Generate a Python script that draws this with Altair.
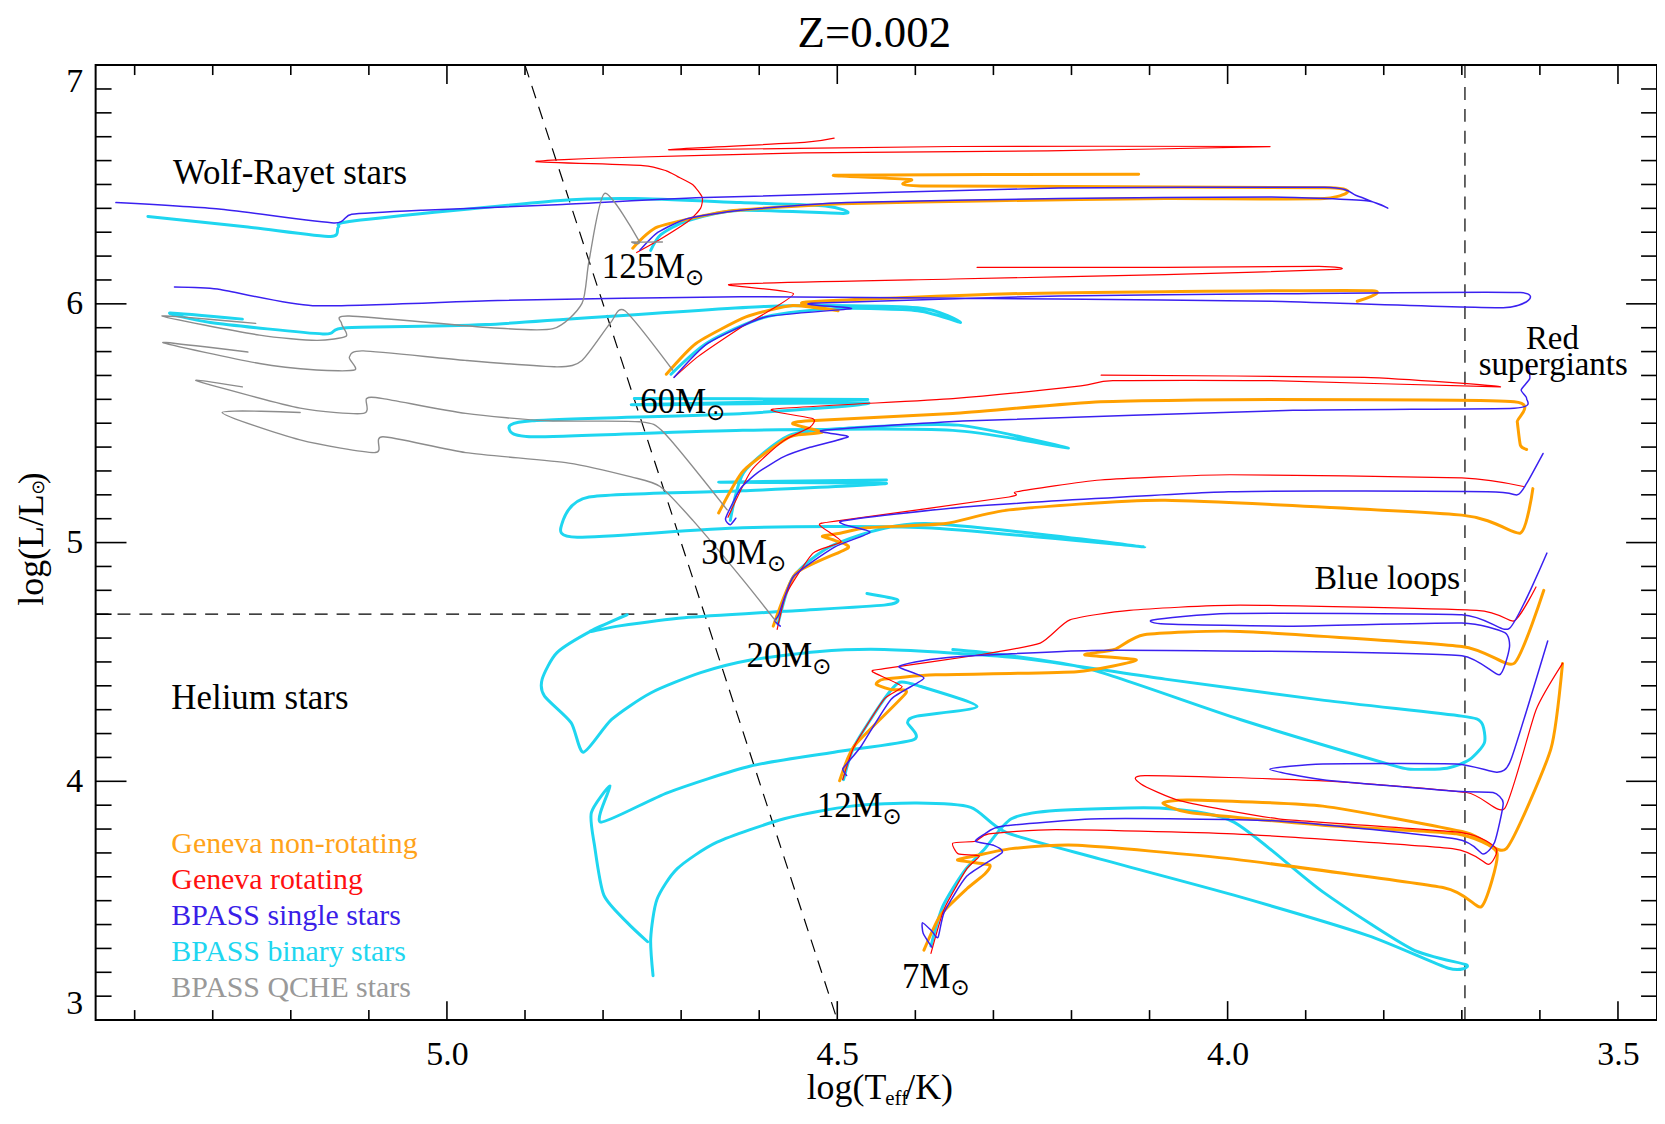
import altair as alt
import pandas as pd

# ---------------- axis ticks ----------------
x_major = [5.0, 4.5, 4.0, 3.5]
x_minor = [5.4, 5.3, 5.2, 5.1, 4.9, 4.8, 4.7, 4.6, 4.4, 4.3, 4.2, 4.1, 3.9, 3.8, 3.7, 3.6]
y_major = [3, 4, 5, 6, 7]
y_minor = [3.1, 3.2, 3.3, 3.4, 3.5, 3.6, 3.7, 3.8, 3.9,
           4.1, 4.2, 4.3, 4.4, 4.5, 4.6, 4.7, 4.8, 4.9,
           5.1, 5.2, 5.3, 5.4, 5.5, 5.6, 5.7, 5.8, 5.9,
           6.1, 6.2, 6.3, 6.4, 6.5, 6.6, 6.7, 6.8, 6.9]

# ---------------- dashed guide lines (logT, logL) ----------------
diag_line = [(4.90, 7.0), (4.50, 3.0)]
helium_line = [(5.45, 4.70), (4.679, 4.70)]
rsg_line = [(3.696, 3.0), (3.696, 7.0)]

# ---------------- tracks (logT, logL) ----------------
# Geneva non-rotating (orange)
nonrot_125 = [(4.762, 6.233), (4.730, 6.322), (4.640, 6.388), (4.495, 6.419), (4.299, 6.432), (4.080, 6.441),
              (3.876, 6.441), (3.870, 6.486), (4.393, 6.494), (4.406, 6.521), (4.501, 6.539), (4.114, 6.543)]
nonrot_60 = [(4.719, 5.705), (4.681, 5.834), (4.617, 5.945), (4.557, 5.993), (4.499, 5.971), (4.542, 6.007),
             (4.279, 6.042), (4.080, 6.051), (3.815, 6.055), (3.834, 6.011)]
nonrot_30 = [(4.652, 5.124), (4.620, 5.302), (4.561, 5.443), (4.519, 5.461), (4.557, 5.497), (4.535, 5.510),
             (4.352, 5.541), (4.163, 5.590), (3.944, 5.599), (3.633, 5.590), (3.629, 5.506), (3.625, 5.408),
             (3.617, 5.390)]
nonrot_20 = [(4.582, 4.650), (4.553, 4.871), (4.486, 4.978), (4.507, 5.013), (4.519, 5.027), (4.495, 5.040),
             (4.462, 5.062), (4.361, 5.080), (4.280, 5.137), (4.080, 5.177), (3.700, 5.115), (3.625, 5.040),
             (3.609, 5.226)]
nonrot_12 = [(4.497, 4.002), (4.478, 4.149), (4.412, 4.370), (4.431, 4.384), (4.450, 4.406), (4.440, 4.428),
             (4.374, 4.446), (4.193, 4.459), (4.117, 4.508), (4.183, 4.530), (4.145, 4.552), (4.107, 4.614),
             (3.984, 4.628), (3.700, 4.565), (3.633, 4.494), (3.595, 4.800)]
nonrot_7 = [(4.389, 3.293), (4.368, 3.439), (4.334, 3.550), (4.311, 3.612), (4.305, 3.650), (4.346, 3.670),
            (4.320, 3.690), (4.277, 3.718), (4.192, 3.732), (3.992, 3.674), (3.723, 3.554), (3.675, 3.475),
            (3.655, 3.701), (3.707, 3.780), (3.878, 3.816), (4.049, 3.869), (4.083, 3.909), (4.049, 3.922),
            (3.878, 3.896), (3.694, 3.785), (3.643, 3.718), (3.586, 4.135), (3.571, 4.494)]

# Geneva rotating (red)
rot_125 = [(4.757, 6.215), (4.730, 6.264), (4.690, 6.348), (4.675, 6.401), (4.673, 6.446), (4.685, 6.499),
           (4.705, 6.534), (4.719, 6.557), (4.749, 6.579), (4.886, 6.596), (4.788, 6.612), (4.543, 6.632),
           (4.231, 6.641), (3.946, 6.659), (4.352, 6.659), (4.715, 6.645), (4.542, 6.676), (4.504, 6.694)]
rot_60 = [(4.709, 5.692), (4.678, 5.780), (4.624, 5.900), (4.556, 6.042), (4.637, 6.082), (4.352, 6.104),
          (4.080, 6.122), (3.860, 6.144), (3.883, 6.157), (4.080, 6.153), (4.321, 6.153)]
rot_30 = [(4.640, 5.106), (4.610, 5.302), (4.569, 5.426), (4.535, 5.483), (4.531, 5.519), (4.582, 5.559),
          (4.352, 5.603), (4.188, 5.656), (4.147, 5.678), (3.944, 5.678), (3.651, 5.652), (3.825, 5.692),
          (4.162, 5.701)]
rot_20 = [(4.577, 4.636), (4.565, 4.787), (4.531, 4.956), (4.495, 5.004), (4.523, 5.075), (4.495, 5.093),
          (4.280, 5.191), (4.270, 5.213), (4.163, 5.262), (3.997, 5.284), (3.700, 5.271), (3.621, 5.235)]
rot_12 = [(4.493, 4.007), (4.478, 4.149), (4.440, 4.344), (4.417, 4.397), (4.455, 4.459), (4.440, 4.472),
          (4.317, 4.530), (4.240, 4.579), (4.202, 4.676), (4.126, 4.716), (3.984, 4.738), (3.681, 4.716),
          (3.633, 4.672), (3.605, 4.814)]
rot_7 = [(4.380, 3.279), (4.363, 3.466), (4.334, 3.634), (4.318, 3.687), (4.345, 3.696), (4.352, 3.741),
         (4.323, 3.749), (4.306, 3.780), (4.220, 3.798), (3.992, 3.780), (3.712, 3.718), (3.666, 3.652),
         (3.656, 3.718), (3.700, 3.785), (3.935, 3.843), (4.060, 3.918), (4.111, 3.989), (4.106, 4.024),
         (3.878, 4.002), (3.694, 3.953), (3.645, 3.887), (3.605, 4.299), (3.571, 4.494)]

# BPASS single stars (blue)
single_125 = [(4.753, 6.224), (4.730, 6.299), (4.692, 6.357), (4.624, 6.392), (4.488, 6.424), (4.216, 6.441),
              (3.944, 6.448), (3.822, 6.432), (3.795, 6.401), (3.836, 6.455), (3.876, 6.488), (4.216, 6.485),
              (4.670, 6.445), (4.859, 6.415), (5.031, 6.392), (5.122, 6.375), (5.145, 6.339), (5.292, 6.397),
              (5.424, 6.424)]
single_60 = [(4.709, 5.692), (4.666, 5.834), (4.592, 5.945), (4.482, 5.980), (4.533, 6.002), (4.216, 6.033),
             (3.944, 6.042), (3.625, 6.047), (3.647, 5.984), (3.944, 6.011), (4.216, 6.020), (4.624, 6.030),
             (4.935, 6.014), (5.172, 5.992), (5.294, 6.062), (5.349, 6.071)]
single_30 = [(4.630, 5.102), (4.637, 5.075), (4.643, 5.102), (4.624, 5.226), (4.602, 5.293), (4.569, 5.359),
             (4.535, 5.399), (4.486, 5.443), (4.519, 5.470), (4.329, 5.510), (3.916, 5.554), (3.633, 5.563),
             (3.617, 5.603), (3.624, 5.639), (3.613, 5.687), (3.615, 5.745)]
single_20 = [(4.573, 4.650), (4.580, 4.672), (4.575, 4.698), (4.556, 4.858), (4.503, 4.982), (4.458, 5.044),
             (4.495, 5.089), (4.329, 5.151), (3.999, 5.213), (3.667, 5.213), (3.629, 5.200), (3.617, 5.248),
             (3.596, 5.373)]
single_12 = [(4.488, 4.024), (4.493, 4.051), (4.488, 4.073), (4.469, 4.149), (4.431, 4.344), (4.389, 4.432),
             (4.421, 4.481), (4.364, 4.517), (4.174, 4.548), (3.889, 4.543), (3.700, 4.526), (3.652, 4.446),
             (3.639, 4.561), (3.645, 4.623), (3.700, 4.663), (3.916, 4.650), (4.080, 4.659), (4.096, 4.676),
             (3.997, 4.703), (3.700, 4.698), (3.639, 4.641), (3.591, 4.956)]
single_7 = [(4.379, 3.306), (4.390, 3.364), (4.391, 3.408), (4.379, 3.373), (4.371, 3.346), (4.363, 3.452),
            (4.334, 3.603), (4.289, 3.701), (4.300, 3.732), (4.323, 3.749), (4.311, 3.780), (4.289, 3.812),
            (4.163, 3.843), (3.935, 3.834), (3.707, 3.758), (3.673, 3.696), (3.658, 3.745), (3.647, 3.909),
            (3.660, 3.953), (3.707, 3.958), (3.878, 4.007), (3.946, 4.051), (3.878, 4.073), (3.707, 4.073),
            (3.655, 4.038), (3.637, 4.091), (3.590, 4.588)]

# BPASS binary stars (cyan)
binary_125 = [(4.739, 6.224), (4.726, 6.290), (4.692, 6.348), (4.624, 6.392), (4.490, 6.379), (4.515, 6.410),
              (4.624, 6.424), (4.760, 6.441), (4.859, 6.432), (5.118, 6.348), (5.139, 6.322), (5.149, 6.282),
              (5.255, 6.322), (5.383, 6.366)]
binary_60 = [(4.713, 5.705), (4.666, 5.838), (4.592, 5.945), (4.501, 5.980), (4.397, 5.971), (4.342, 5.922),
             (4.397, 5.984), (4.592, 5.989), (4.950, 5.913), (5.129, 5.900), (5.159, 5.874), (5.303, 5.922),
             (5.355, 5.962), (5.262, 5.936)]
binary_30 = [(4.637, 5.093), (4.620, 5.293), (4.562, 5.448), (4.488, 5.479), (4.345, 5.492), (4.204, 5.395),
             (4.352, 5.470), (4.621, 5.470), (4.885, 5.443), (4.920, 5.474), (4.891, 5.510), (4.621, 5.541),
             (4.461, 5.585), (4.764, 5.577), (4.461, 5.599), (4.760, 5.603)]
binary_20a = [(4.576, 4.659), (4.556, 4.858), (4.501, 4.996), (4.387, 5.080), (4.106, 4.982), (4.387, 5.062),
              (4.621, 5.062), (4.833, 5.022), (4.853, 5.075), (4.818, 5.191), (4.621, 5.217), (4.437, 5.248),
              (4.652, 5.253), (4.437, 5.262)]
binary_20b = [(4.462, 4.787), (4.423, 4.761), (4.440, 4.738), (4.568, 4.712), (4.696, 4.685), (4.781, 4.650),
              (4.817, 4.628), (4.769, 4.698), (4.814, 4.632), (4.859, 4.539), (4.878, 4.428), (4.875, 4.357),
              (4.841, 4.246), (4.825, 4.122), (4.789, 4.259), (4.739, 4.370), (4.675, 4.455), (4.611, 4.508),
              (4.526, 4.543), (4.440, 4.552), (4.269, 4.517), (4.080, 4.428), (3.876, 4.339), (3.700, 4.273),
              (3.675, 4.246), (3.671, 4.162), (3.690, 4.091), (3.719, 4.055), (3.766, 4.051), (3.795, 4.073),
              (3.984, 4.259), (4.174, 4.468), (4.288, 4.530), (4.352, 4.552)]
binary_12 = [(4.492, 4.007), (4.478, 4.149), (4.440, 4.344), (4.420, 4.415), (4.393, 4.397), (4.321, 4.313),
             (4.398, 4.273), (4.410, 4.246), (4.402, 4.175), (4.504, 4.122), (4.611, 4.064), (4.717, 3.953),
             (4.803, 3.829), (4.791, 3.980), (4.815, 3.869), (4.811, 3.732), (4.799, 3.523), (4.769, 3.408),
             (4.743, 3.328)]
binary_7 = [(4.380, 3.310), (4.365, 3.475), (4.338, 3.621), (4.311, 3.718), (4.277, 3.843), (4.220, 3.878),
            (4.083, 3.887), (3.992, 3.829), (3.878, 3.537), (3.764, 3.297), (3.694, 3.231), (3.717, 3.217),
            (3.821, 3.355), (3.992, 3.523), (4.163, 3.674), (4.283, 3.785), (4.329, 3.891), (4.398, 3.909),
            (4.482, 3.896), (4.568, 3.843), (4.654, 3.745), (4.705, 3.634), (4.731, 3.505), (4.739, 3.341),
            (4.736, 3.186)]

# BPASS QCHE stars (grey)
qche_125 = [(4.724, 6.259), (4.763, 6.259), (4.754, 6.264), (4.798, 6.463), (4.818, 6.180), (4.827, 6.002),
            (4.864, 5.896), (4.944, 5.900), (5.125, 5.949), (5.135, 5.918), (5.129, 5.865), (5.167, 5.847),
            (5.240, 5.869), (5.365, 5.949), (5.245, 5.918)]
qche_60 = [(4.711, 5.723), (4.772, 5.971), (4.791, 5.918), (4.827, 5.763), (4.859, 5.736), (4.976, 5.763),
           (5.107, 5.803), (5.125, 5.776), (5.118, 5.723), (5.167, 5.723), (5.240, 5.750), (5.364, 5.838),
           (5.255, 5.798)]
qche_30 = [(4.641, 5.137), (4.721, 5.457), (4.753, 5.506), (4.870, 5.510), (4.976, 5.541), (5.082, 5.603),
           (5.103, 5.603), (5.107, 5.541), (5.188, 5.563), (5.321, 5.678), (5.262, 5.652)]
qche_20 = [(4.579, 4.672), (4.621, 4.845), (4.685, 5.093), (4.727, 5.235), (4.764, 5.275), (4.844, 5.333),
           (4.976, 5.377), (5.082, 5.443), (5.092, 5.377), (5.188, 5.430), (5.288, 5.545), (5.188, 5.545)]

# ---------------- labels ----------------
title_text = "Z=0.002"

mass_labels = ["125M", "60M", "30M", "20M", "12M", "7M"]
mass_T = [4.695, 4.668, 4.590, 4.532, 4.442, 4.355]
mass_L = [6.153, 5.588, 4.956, 4.524, 3.897, 3.180]

region_labels = ["Wolf-Rayet stars", "Helium stars"]
region_T = [5.351, 5.353]
region_L = [6.548, 4.348]

rsg_labels = ["Red", "supergiants"]
rsg_T = [3.584, 3.583]
rsg_L = [5.852, 5.742]

loops_label = ["Blue loops"]
loops_T = [3.702]
loops_L = [4.847]

legend_names = ["Geneva non-rotating", "Geneva rotating", "BPASS single stars",
                "BPASS binary stars", "BPASS QCHE stars"]
legend_colors = ["#FFA31A", "#FF1010", "#3A1EE8", "#1ED6F0", "#999999"]
legend_T = [5.353, 5.353, 5.353, 5.353, 5.353]
legend_L = [3.736, 3.585, 3.434, 3.284, 3.133]

# ---------------- build tables ----------------
track_sets = [
    ("BPASS binary stars", [("b125", binary_125), ("b60", binary_60), ("b30", binary_30), ("b20a", binary_20a),
                            ("b20b", binary_20b), ("b12", binary_12), ("b7", binary_7)]),
    ("Geneva non-rotating", [("n125", nonrot_125), ("n60", nonrot_60), ("n30", nonrot_30), ("n20", nonrot_20),
                             ("n12", nonrot_12), ("n7", nonrot_7)]),
    ("Geneva rotating", [("r125", rot_125), ("r60", rot_60), ("r30", rot_30), ("r20", rot_20),
                         ("r12", rot_12), ("r7", rot_7)]),
    ("BPASS single stars", [("s125", single_125), ("s60", single_60), ("s30", single_30), ("s20", single_20),
                            ("s12", single_12), ("s7", single_7)]),
    ("BPASS QCHE stars", [("q125", qche_125), ("q60", qche_60), ("q30", qche_30), ("q20", qche_20)]),
]
styles = {
    "BPASS binary stars": ("#1ED6F0", 3.0, 0.3),
    "Geneva non-rotating": ("#FFA000", 3.0, 0.45),
    "Geneva rotating": ("#FF0000", 1.2, 0.45),
    "BPASS single stars": ("#3A20F0", 1.5, 0.45),
    "BPASS QCHE stars": ("#8C8C8C", 1.4, 0.3),
}

W, H = 1568, 959
FONT = "Liberation Serif"
xs = alt.Scale(domain=[5.45, 3.45], nice=False, zero=False)
ys = alt.Scale(domain=[3, 7], nice=False, zero=False)
xaxis = alt.Axis(values=x_major, format=".1f", title=None, grid=False, domain=False, ticks=False, tickSize=0,
                 labelFont=FONT, labelFontSize=34, labelColor="black", labelPadding=18,
                 labelFlush=False, labelOverlap=False)
yaxis = alt.Axis(values=y_major, format="d", title=None, grid=False, domain=False, ticks=False, tickSize=0,
                 labelFont=FONT, labelFontSize=34, labelColor="black", labelPadding=13,
                 labelFlush=True, labelOverlap=False)
X = alt.X("logT:Q", scale=xs, axis=xaxis)
Y = alt.Y("logL:Q", scale=ys, axis=yaxis)

layers = []

# dashed guides
dash_rows = []
for sid, seg in [("diag", diag_line), ("he", helium_line), ("rsg", rsg_line)]:
    for i, (t, l) in enumerate(seg):
        dash_rows.append({"seg": sid, "i": i, "logT": t, "logL": l})
layers.append(
    alt.Chart(pd.DataFrame(dash_rows)).mark_line(color="black", strokeWidth=1.2, strokeDash=[13, 9])
    .encode(x=X, y=Y, detail="seg:N", order="i:Q")
)

# tracks
for model, tl in track_sets:
    rows = []
    for tid, pts in tl:
        for i, (t, l) in enumerate(pts):
            rows.append({"track": tid, "i": i, "logT": t, "logL": l})
    col, wd, ten = styles[model]
    layers.append(
        alt.Chart(pd.DataFrame(rows)).mark_line(color=col, strokeWidth=wd, clip=True, interpolate="cardinal",
                                                 tension=ten, strokeJoin="round", strokeCap="round")
        .encode(x=X, y=Y, detail="track:N", order="i:Q")
    )

# inward ticks on all four sides
xmaj = pd.DataFrame({"logT": x_major})
xmin = pd.DataFrame({"logT": x_minor})
ymaj = pd.DataFrame({"logL": y_major})
ymin = pd.DataFrame({"logL": y_minor})
tk = dict(color="black", strokeWidth=1.6)
layers += [
    alt.Chart(xmaj).mark_rule(**tk).encode(x=X, y=alt.value(H), y2=alt.value(H - 19)),
    alt.Chart(xmin).mark_rule(**tk).encode(x=X, y=alt.value(H), y2=alt.value(H - 10)),
    alt.Chart(xmaj).mark_rule(**tk).encode(x=X, y=alt.value(0), y2=alt.value(19)),
    alt.Chart(xmin).mark_rule(**tk).encode(x=X, y=alt.value(0), y2=alt.value(10)),
    alt.Chart(ymaj).mark_rule(**tk).encode(y=Y, x=alt.value(0), x2=alt.value(31)),
    alt.Chart(ymin).mark_rule(**tk).encode(y=Y, x=alt.value(0), x2=alt.value(16)),
    alt.Chart(ymaj).mark_rule(**tk).encode(y=Y, x=alt.value(W), x2=alt.value(W - 31)),
    alt.Chart(ymin).mark_rule(**tk).encode(y=Y, x=alt.value(W), x2=alt.value(W - 16)),
]

# text annotations
mass_df = pd.DataFrame({"logT": mass_T, "logL": mass_L, "label": mass_labels, "sun": ["\u2299"] * 6})
layers.append(alt.Chart(mass_df).mark_text(font=FONT, fontSize=35, align="right", baseline="middle",
                                           color="black").encode(x=X, y=Y, text="label:N"))
layers.append(alt.Chart(mass_df).mark_text(font="DejaVu Sans", fontSize=23, align="left", baseline="middle",
                                           dy=11, dx=0, color="black").encode(x=X, y=Y, text="sun:N"))
reg_df = pd.DataFrame({"logT": region_T, "logL": region_L, "label": region_labels})
layers.append(alt.Chart(reg_df).mark_text(font=FONT, fontSize=35, align="left", baseline="middle",
                                          color="black").encode(x=X, y=Y, text="label:N"))
rsg_df = pd.DataFrame({"logT": rsg_T, "logL": rsg_L, "label": rsg_labels})
layers.append(alt.Chart(rsg_df).mark_text(font=FONT, fontSize=33, align="center", baseline="middle",
                                          color="black").encode(x=X, y=Y, text="label:N"))
loop_df = pd.DataFrame({"logT": loops_T, "logL": loops_L, "label": loops_label})
layers.append(alt.Chart(loop_df).mark_text(font=FONT, fontSize=34, align="right", baseline="middle",
                                           color="black").encode(x=X, y=Y, text="label:N"))
leg_df = pd.DataFrame({"logT": legend_T, "logL": legend_L, "label": legend_names, "col": legend_colors})
layers.append(alt.Chart(leg_df).mark_text(font=FONT, fontSize=30, align="left", baseline="middle")
              .encode(x=X, y=Y, text="label:N", color=alt.Color("col:N", scale=None)))

# chart title as text above the frame
layers.append(alt.Chart(pd.DataFrame({"t": [title_text]})).mark_text(font=FONT, fontSize=45, align="center",
              baseline="alphabetic", color="black").encode(x=alt.value(782), y=alt.value(-18), text="t:N"))

# axis titles built from pieces (with subscripts)
layers.append(alt.Chart(pd.DataFrame({"t": ["log(T"]})).mark_text(font=FONT, fontSize=36, align="right",
              baseline="alphabetic", color="black").encode(x=alt.value(794), y=alt.value(1038), text="t:N"))
layers.append(alt.Chart(pd.DataFrame({"t": ["eff"]})).mark_text(font=FONT, fontSize=21, align="left",
              baseline="alphabetic", color="black").encode(x=alt.value(793), y=alt.value(1044), text="t:N"))
layers.append(alt.Chart(pd.DataFrame({"t": ["/K)"]})).mark_text(font=FONT, fontSize=36, align="left",
              baseline="alphabetic", color="black").encode(x=alt.value(813), y=alt.value(1038), text="t:N"))

layers.append(alt.Chart(pd.DataFrame({"t": ["log(L/L"]})).mark_text(font=FONT, fontSize=36, align="right",
              baseline="alphabetic", angle=270, color="black").encode(x=alt.value(-53), y=alt.value(431), text="t:N"))
layers.append(alt.Chart(pd.DataFrame({"t": ["\u2299"]})).mark_text(font="DejaVu Sans", fontSize=18, align="center",
              baseline="middle", angle=270, color="black").encode(x=alt.value(-57), y=alt.value(424), text="t:N"))
layers.append(alt.Chart(pd.DataFrame({"t": [")"]})).mark_text(font=FONT, fontSize=36, align="left",
              baseline="alphabetic", angle=270, color="black").encode(x=alt.value(-53), y=alt.value(421), text="t:N"))

chart = alt.layer(*layers).properties(
    width=W, height=H,
    autosize=alt.AutoSizeParams(type="none"),
    padding={"left": 88, "top": 55, "right": 0, "bottom": 90},
).configure_view(stroke="black", strokeWidth=2)

chart.save("out.html", embed_options={"renderer": "svg", "actions": False})
